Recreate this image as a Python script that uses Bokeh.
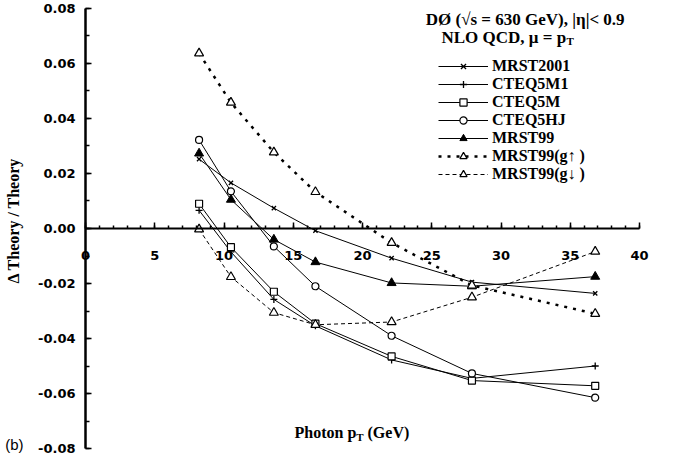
import math
from bokeh.plotting import figure
from bokeh.models import Legend, LegendItem, Label, SingleIntervalTicker, NumeralTickFormatter
from bokeh.embed import file_html
from bokeh.resources import INLINE

# ---- data ----
pt = [8.2, 10.5, 13.6, 16.6, 22.1, 27.9, 36.8]
mrst2001 = [0.0252, 0.0166, 0.0074, -0.0008, -0.0108, -0.0195, -0.0236]
cteq5m1 = [0.0066, -0.0085, -0.0258, -0.0354, -0.0478, -0.0545, -0.0500]
cteq5m = [0.0090, -0.0068, -0.0230, -0.0346, -0.0465, -0.0553, -0.0572]
cteq5hj = [0.0322, 0.0135, -0.0065, -0.0210, -0.0390, -0.0527, -0.0615]
mrst99 = [0.0273, 0.0105, -0.0040, -0.0122, -0.0198, -0.0210, -0.0175]
mrst99_gup = [0.0637, 0.0458, 0.0277, 0.0133, -0.0052, -0.0207, -0.0310]
mrst99_gdn = [-0.0003, -0.0176, -0.0306, -0.0350, -0.0340, -0.0250, -0.0084]

names = ["MRST2001", "CTEQ5M1", "CTEQ5M", "CTEQ5HJ", "MRST99", "MRST99(g\u2191 )", "MRST99(g\u2193 )"]

x_axis_span = (0, 40)
y_axis_span = (-0.08, 0.08)

SERIF = "Liberation Serif"
TICKFONT = "DejaVu Sans"

# the frame fills the whole figure; the axes are drawn at x = 0 and y = 0
p = figure(width=672, height=456, x_range=(-6.137, 42.38), y_range=(-0.082909, 0.082909),
           output_backend="svg", toolbar_location=None,
           min_border_left=0, min_border_right=0, min_border_top=0, min_border_bottom=0)
p.outline_line_color = None
p.xgrid.visible = False
p.ygrid.visible = False
p.background_fill_color = "white"
p.border_fill_color = "white"

xa = p.xaxis[0]
xa.fixed_location = 0
xa.bounds = x_axis_span
xa.ticker = SingleIntervalTicker(interval=5, num_minor_ticks=5)
xa.axis_line_width = 2
xa.axis_line_color = "black"
xa.major_tick_in = 6
xa.major_tick_out = 0
xa.minor_tick_in = 3
xa.minor_tick_out = 0
xa.major_tick_line_width = 1.5
xa.minor_tick_line_width = 1.5
xa.major_label_standoff = 22
xa.major_label_text_font = TICKFONT
xa.major_label_text_font_style = "bold"
xa.major_label_text_font_size = "13px"
xa.major_label_text_color = "black"

ya = p.yaxis[0]
ya.fixed_location = 0
ya.bounds = y_axis_span
ya.ticker = SingleIntervalTicker(interval=0.02, num_minor_ticks=2)
ya.formatter = NumeralTickFormatter(format="0.00")
ya.axis_line_width = 2.5
ya.axis_line_color = "black"
ya.major_tick_in = 6
ya.major_tick_out = 0
ya.minor_tick_in = 4
ya.minor_tick_out = 0
ya.major_tick_line_width = 1.5
ya.minor_tick_line_width = 1.5
ya.major_label_standoff = 10
ya.major_label_text_font = TICKFONT
ya.major_label_text_font_style = "bold"
ya.major_label_text_font_size = "13px"
ya.major_label_text_color = "black"

# ---- series ----
styles = [
    (mrst2001, dict(line_width=1), dict(marker="x", size=6, line_width=1.3, fill_color=None)),
    (cteq5m1, dict(line_width=1), dict(marker="cross", size=7, line_width=1.3, fill_color=None)),
    (cteq5m, dict(line_width=1), dict(marker="square", size=7, line_width=1.2, fill_color="white")),
    (cteq5hj, dict(line_width=1), dict(marker="circle", size=7, line_width=1.2, fill_color="white")),
    (mrst99, dict(line_width=1), dict(marker="triangle", size=9, line_width=1, fill_color="black")),
    (mrst99_gup, dict(line_width=2.5, line_dash="3 6"), dict(marker="triangle", size=9, line_width=1.2, fill_color="white")),
    (mrst99_gdn, dict(line_width=1, line_dash="4 3"), dict(marker="triangle", size=9, line_width=1.2, fill_color="white")),
]

items = []
for name, (ys, lkw, mkw) in zip(names, styles):
    lr = p.line(pt, ys, line_color="black", **lkw)
    sr = p.scatter(pt, ys, line_color="black", **mkw)
    items.append(LegendItem(label=name, renderers=[lr, sr]))

legend = Legend(items=items, location=(438, 273), orientation="vertical",
                border_line_color=None, background_fill_alpha=0,
                padding=0, margin=0, spacing=0,
                glyph_width=50, glyph_height=18, label_height=18,
                label_standoff=4,
                label_text_font=SERIF, label_text_font_style="bold",
                label_text_font_size="16px", label_text_color="black")
p.add_layout(legend)

def lab(x, y, text, size="16px", align="left", font=SERIF, style="bold", angle=0.0):
    p.add_layout(Label(x=x, y=y, text=text, text_font=font, text_font_style=style,
                       text_font_size=size, text_align=align, text_baseline="middle",
                       text_color="black", angle=angle))

# header texts
lab(38.92, 0.0760, "D\u00d8 (\u221as = 630 GeV), |\u03b7|< 0.9", size="17px", align="right")
lab(25.70, 0.06945, "NLO QCD, \u03bc = p", size="17px")
lab(34.72, 0.06836, "T", size="11px")

# axis titles
lab(15.09, -0.07418, "Photon p")
lab(19.55, -0.07564, "T", size="11px")
lab(20.36, -0.07418, "(GeV)")
lab(-5.2, 0.0029, "\u0394 Theory / Theory", align="center", angle=math.pi / 2)

# panel tag
lab(-5.8, -0.07855, "(b)", size="15px", font="Liberation Sans", style="normal")

open("out.html", "w").write(file_html(p, INLINE))
